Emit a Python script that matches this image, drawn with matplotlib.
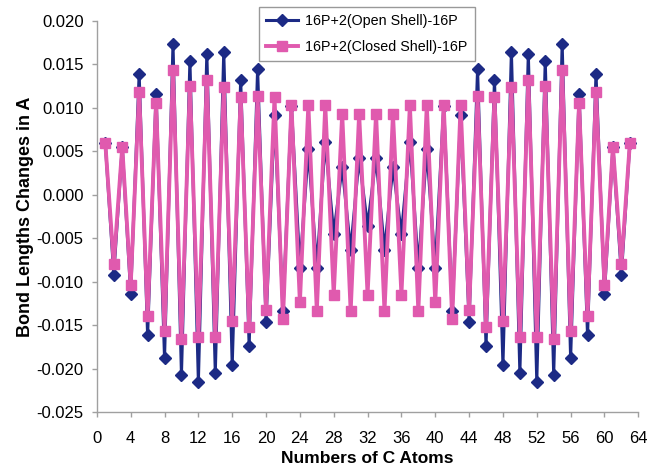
import numpy as np
import matplotlib
matplotlib.use('Agg')
import matplotlib.pyplot as plt

plt.rcParams['font.family'] = ['Liberation Sans', 'DejaVu Sans']

atoms = list(range(1, 64))

open_shell = [0.0059, -0.0092, 0.0055, -0.0114, 0.0139, -0.0162, 0.0116, -0.0188, 0.0173, -0.0207,
              0.0154, -0.0215, 0.0162, -0.0205, 0.0164, -0.0196, 0.0132, -0.0174, 0.0144, -0.0146,
              0.0092, -0.0134, 0.0102, -0.0084, 0.0052, -0.0084, 0.0061, -0.0045, 0.0032, -0.0064,
              0.0042, -0.0036, 0.0042, -0.0064, 0.0032, -0.0045, 0.0061, -0.0084, 0.0052, -0.0084,
              0.0102, -0.0134, 0.0092, -0.0146, 0.0144, -0.0174, 0.0132, -0.0196, 0.0164, -0.0205,
              0.0162, -0.0215, 0.0154, -0.0207, 0.0173, -0.0188, 0.0116, -0.0162, 0.0139, -0.0114,
              0.0055, -0.0092, 0.0059]

closed_shell = [0.0059, -0.0080, 0.0055, -0.0104, 0.0118, -0.0140, 0.0105, -0.0157, 0.0143, -0.0166,
                0.0125, -0.0164, 0.0132, -0.0164, 0.0124, -0.0145, 0.0112, -0.0152, 0.0113, -0.0133,
                0.0112, -0.0143, 0.0103, -0.0124, 0.0103, -0.0134, 0.0103, -0.0115, 0.0093, -0.0134,
                0.0093, -0.0115, 0.0093, -0.0134, 0.0093, -0.0115, 0.0103, -0.0134, 0.0103, -0.0124,
                0.0103, -0.0143, 0.0103, -0.0133, 0.0113, -0.0152, 0.0112, -0.0145, 0.0124, -0.0164,
                0.0132, -0.0164, 0.0125, -0.0166, 0.0143, -0.0157, 0.0105, -0.0140, 0.0118, -0.0104,
                0.0055, -0.0080, 0.0059]

fig = plt.figure(figsize=(6.5, 4.69), dpi=100)
ax = fig.add_axes([0.149, 0.1215, 0.833, 0.8345])

ax.plot(atoms, open_shell, color='#1c2a85', linewidth=2.2, marker='D', markersize=6,
        label='16P+2(Open Shell)-16P', zorder=2)
ax.plot(atoms, closed_shell, color='#e05aae', linewidth=2.8, marker='s', markersize=6.5,
        label='16P+2(Closed Shell)-16P', zorder=3)

ax.set_xlim(0, 64)
ax.set_ylim(-0.025, 0.020)
ax.set_xticks(np.arange(0, 65, 4))
ax.set_yticks(np.arange(-0.025, 0.0201, 0.005))
ax.yaxis.set_major_formatter(matplotlib.ticker.FormatStrFormatter('%.3f'))

for s in ['top', 'right']:
    ax.spines[s].set_visible(False)
for s in ['left', 'bottom']:
    ax.spines[s].set_color('#a0a0a0')
    ax.spines[s].set_linewidth(1.0)
ax.tick_params(axis='both', colors='#a0a0a0', labelcolor='black', labelsize=12, length=3.5, width=1)
ax.tick_params(axis='x', pad=10)
ax.tick_params(axis='y', pad=6)

ax.set_xlabel('Numbers of C Atoms', fontsize=12.5, fontweight='bold', labelpad=4)
ax.set_ylabel('Bond Lengths Changes in A', fontsize=13, fontweight='bold', labelpad=2)

leg = ax.legend(loc='upper left', bbox_to_anchor=(0.30, 1.034), fontsize=10.3, frameon=True,
                fancybox=False, edgecolor='#808080', handlelength=2.2, borderpad=0.5,
                labelspacing=0.8, handletextpad=0.5, borderaxespad=0)
leg.get_frame().set_linewidth(1.0)

fig.savefig('out.png', dpi=100)
